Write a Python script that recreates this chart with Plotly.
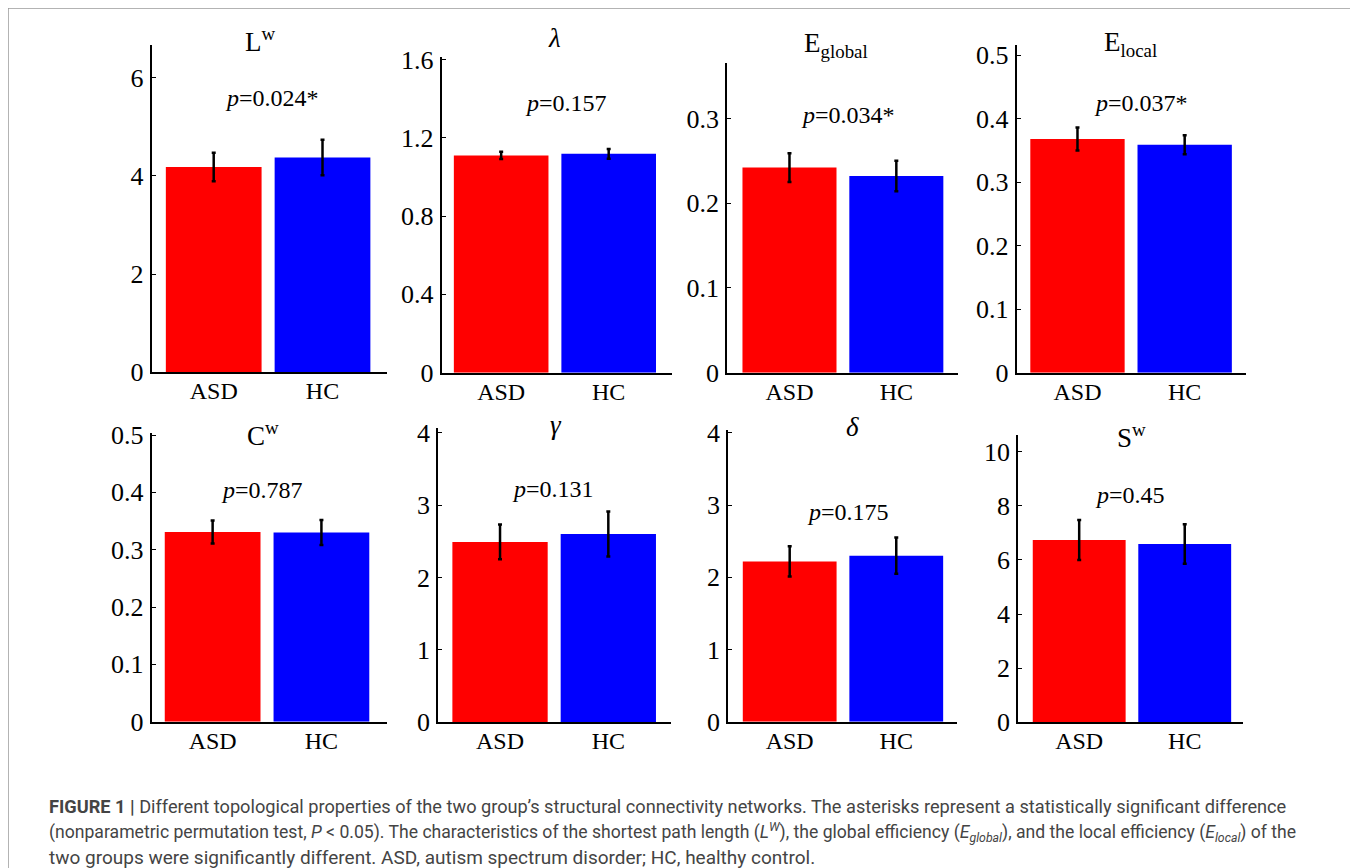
import plotly.graph_objects as go

W, H = 1358, 868
OFF = 8  # the page places the figure 8px in from the top-left corner

groups = ["ASD", "HC"]
metrics = ["L<sup>w</sup>", "<i>λ</i>", "E<sub>global</sub>", "E<sub>local</sub>",
           "C<sup>w</sup>", "<i>γ</i>", "<i>δ</i>", "S<sup>w</sup>"]
p_labels = ["<i>p</i>=0.024*", "<i>p</i>=0.157", "<i>p</i>=0.034*", "<i>p</i>=0.037*",
            "<i>p</i>=0.787", "<i>p</i>=0.131", "<i>p</i>=0.175", "<i>p</i>=0.45"]
asd_mean = [4.18, 1.110, 0.242, 0.368, 0.331, 2.49, 2.22, 6.74]
hc_mean = [4.37, 1.118, 0.232, 0.359, 0.330, 2.60, 2.30, 6.59]
asd_err = [0.29, 0.018, 0.017, 0.018, 0.020, 0.24, 0.21, 0.74]
hc_err = [0.36, 0.025, 0.018, 0.015, 0.022, 0.31, 0.25, 0.73]
y_max = [6.66, 1.614, 0.365, 0.516, 0.503, 4.06, 4.04, 10.62]
y_ticks = [[0, 2, 4, 6], [0, 0.4, 0.8, 1.2, 1.6], [0, 0.1, 0.2, 0.3],
           [0, 0.1, 0.2, 0.3, 0.4, 0.5], [0, 0.1, 0.2, 0.3, 0.4, 0.5],
           [0, 1, 2, 3, 4], [0, 1, 2, 3, 4], [0, 2, 4, 6, 8, 10]]
x_ranges = [(-0.57, 1.59), (-0.553, 1.586), (-0.582, 1.58), (-0.567, 1.572),
            (-0.56, 1.6), (-0.57, 1.576), (-0.576, 1.567), (-0.577, 1.555)]

# pixel boxes of the axes on the page: (left, right, bottom, top)
boxes = [(151.7, 386.7, 372.3, 45), (441.7, 671.7, 372.7, 56.7),
         (727.3, 958.3, 372.7, 63.3), (1016.7, 1246, 372.7, 45),
         (151.7, 386.7, 721.7, 433.3), (438.3, 670.7, 722.3, 428.3),
         (728.3, 956.7, 721.7, 430), (1018.3, 1243.3, 722.3, 435)]
title_pos = [(260, 40), (554, 38), (836, 45), (1130, 44),
             (263, 434), (556, 425), (852, 427), (1131, 436)]
p_pos = [(272, 98), (566, 103), (848, 115), (1141, 103),
         (262, 490), (553, 489), (848, 512), (1130, 495)]

def px(x):
    return (x - OFF) / W

def py(y):
    return 1 - (y - OFF) / H

fig = go.Figure()
serif = "Liberation Serif, Times New Roman, serif"
annotations = []
for i in range(8):
    xa = "x" if i == 0 else f"x{i+1}"
    ya = "y" if i == 0 else f"y{i+1}"
    fig.add_trace(go.Bar(
        x=groups, y=[asd_mean[i], hc_mean[i]],
        marker=dict(color=["#ff0000", "#0000ff"], line=dict(width=0)),
        width=0.88,
        error_y=dict(type="data", array=[asd_err[i], hc_err[i]],
                     color="black", thickness=2.5, width=2),
        xaxis=xa, yaxis=ya, showlegend=False, hoverinfo="skip"))
    l, r, b, t = boxes[i]
    key = "" if i == 0 else str(i + 1)
    fig.layout["xaxis" + key] = dict(
        domain=[px(l), px(r)], anchor=ya, range=list(x_ranges[i]),
        showline=True, linecolor="black", linewidth=2, ticks="",
        showgrid=False, zeroline=False, fixedrange=True, automargin=False,
        tickfont=dict(family=serif, size=24, color="black"),
        ticklabelstandoff=-4)
    fig.layout["yaxis" + key] = dict(
        domain=[py(b), py(t)], anchor=xa, range=[0, y_max[i]],
        showline=True, linecolor="black", linewidth=2, automargin=False,
        ticks="inside", ticklen=4, tickwidth=1, tickcolor="black",
        tickvals=y_ticks[i], ticktext=[f"{v:g}" for v in y_ticks[i]],
        showgrid=False, zeroline=False, fixedrange=True,
        tickfont=dict(family=serif, size=26, color="black"),
        ticklabelstandoff=1)
    annotations.append(dict(text=metrics[i], x=px(title_pos[i][0]), y=py(title_pos[i][1]),
                            xref="paper", yref="paper", showarrow=False,
                            xanchor="center", yanchor="middle",
                            font=dict(family=serif, size=27, color="black")))
    annotations.append(dict(text=p_labels[i], x=px(p_pos[i][0]), y=py(p_pos[i][1]),
                            xref="paper", yref="paper", showarrow=False,
                            xanchor="center", yanchor="middle",
                            font=dict(family=serif, size=24, color="black")))

caption = [
    "<b>FIGURE 1 |</b> Different topological properties of the two group’s structural connectivity networks. The asterisks represent a statistically significant difference",
    "(nonparametric permutation test, <i>P</i> &lt; 0.05). The characteristics of the shortest path length (<i>L<sup>W</sup></i>), the global efficiency (<i>E<sub>global</sub></i>), and the local efficiency (<i>E<sub>local</sub></i>) of the",
    "two groups were significantly different. ASD, autism spectrum disorder; HC, healthy control.",
]
cap_y = [806, 832, 857]
cap_size = [18.2, 17.6, 19.0]
for txt, yy, sz in zip(caption, cap_y, cap_size):
    annotations.append(dict(text=txt, x=px(47), y=py(yy), xref="paper", yref="paper",
                            showarrow=False, xanchor="left", yanchor="middle",
                            font=dict(family="Roboto, Liberation Sans, sans-serif",
                                      size=sz, color="#444444")))

fig.update_layout(
    template="none",
    width=W, height=H, margin=dict(l=0, r=0, t=0, b=0, pad=0),
    paper_bgcolor="white", plot_bgcolor="white",
    annotations=annotations,
    shapes=[dict(type="rect", xref="paper", yref="paper",
                 x0=px(8), x1=px(1354), y0=py(900), y1=py(8),
                 line=dict(color="#9a9a9a", width=1.5), fillcolor="rgba(0,0,0,0)")],
)

fig.write_html("out.html")
